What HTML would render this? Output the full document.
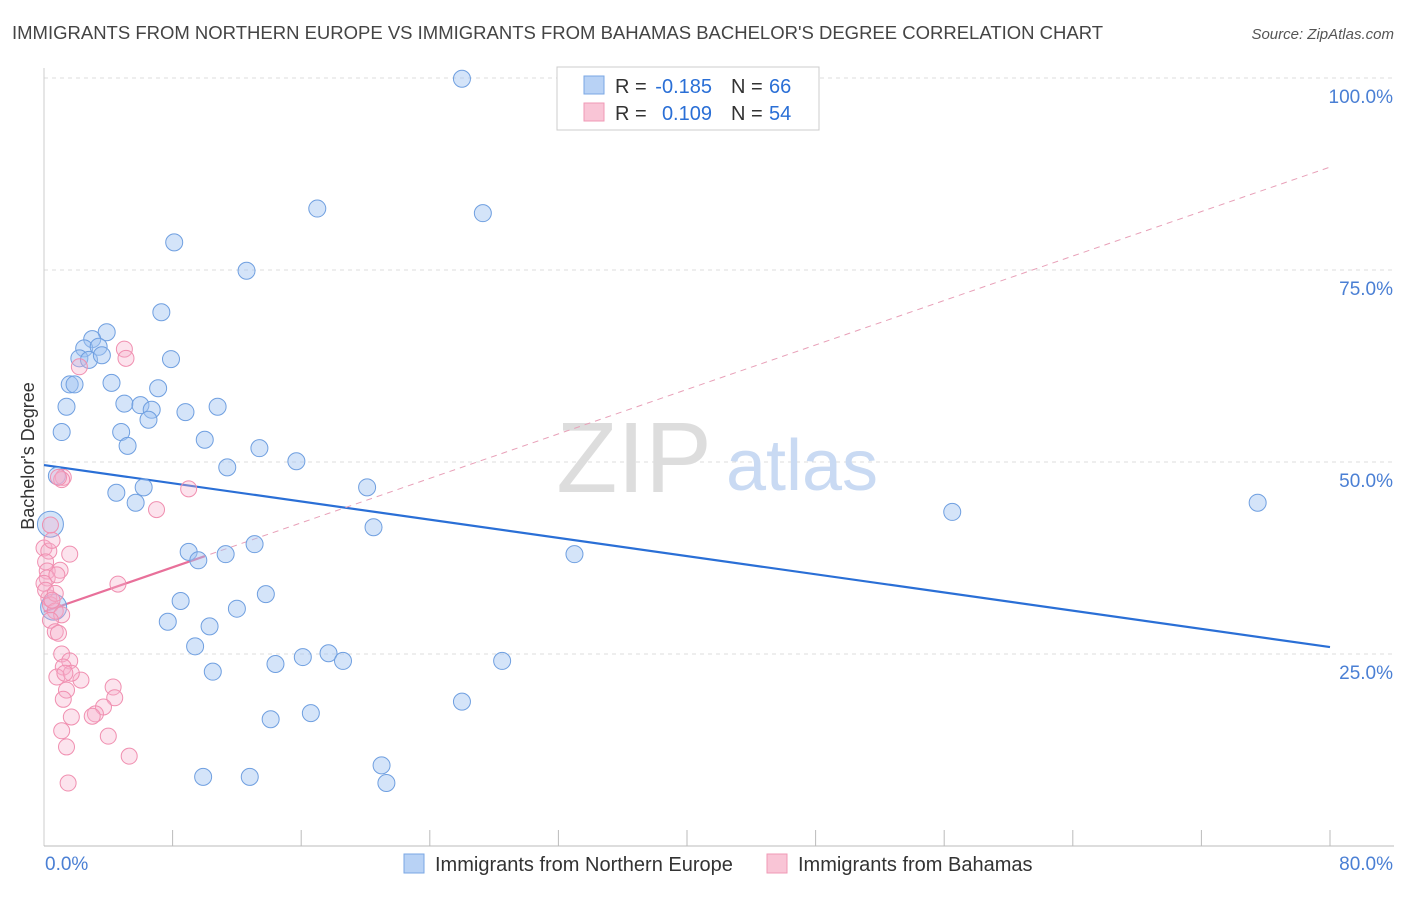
<!DOCTYPE html>
<html><head><meta charset="utf-8">
<style>
body{margin:0;background:#fff;font-family:"Liberation Sans",sans-serif;}
svg text{font-family:"Liberation Sans",sans-serif;}
</style></head>
<body>
<svg id="chart" width="1406" height="892" xmlns="http://www.w3.org/2000/svg">
<text x="12" y="39" font-size="18.5" fill="#444">IMMIGRANTS FROM NORTHERN EUROPE VS IMMIGRANTS FROM BAHAMAS BACHELOR'S DEGREE CORRELATION CHART</text>
<text x="1394" y="39" font-size="15" fill="#555" font-style="italic" text-anchor="end">Source: ZipAtlas.com</text>
<g id="grid"></g>
<g>
<text x="634" y="492" font-size="100" fill="#ddd" font-family="Liberation Serif" text-anchor="middle">ZIP</text>
<text x="802" y="490" font-size="72" fill="#c9daf3" text-anchor="middle">atlas</text>
</g>
<g id="trend"></g>
<g id="points"></g>
<text transform="translate(34,456) rotate(-90)" font-size="18" fill="#333" text-anchor="middle">Bachelor's Degree</text>
<g>
<rect x="557" y="67" width="262" height="63" fill="#fff" stroke="#ccc"/>
<rect x="584" y="76" width="20" height="18" fill="#b8d2f5" stroke="#7aa7e4"/>
<rect x="584" y="103" width="20" height="18" fill="#f9c5d6" stroke="#f099b6"/>
<text x="615" y="93" font-size="20" fill="#333">R =</text>
<text x="712" y="93" font-size="20" fill="#2a6fd6" text-anchor="end">-0.185</text>
<text x="731" y="93" font-size="20" fill="#333">N =</text>
<text x="769" y="93" font-size="20" fill="#2a6fd6">66</text>
<text x="615" y="120" font-size="20" fill="#333">R =</text>
<text x="712" y="120" font-size="20" fill="#2a6fd6" text-anchor="end">0.109</text>
<text x="731" y="120" font-size="20" fill="#333">N =</text>
<text x="769" y="120" font-size="20" fill="#2a6fd6">54</text>
</g>
<g>
<rect x="404" y="854" width="20" height="19" fill="#b8d2f5" stroke="#7aa7e4"/>
<text x="435" y="871" font-size="20" fill="#333">Immigrants from Northern Europe</text>
<rect x="767" y="854" width="20" height="19" fill="#f9c5d6" stroke="#f099b6"/>
<text x="798" y="871" font-size="20" fill="#333">Immigrants from Bahamas</text>
</g>
<text x="45" y="870" font-size="19" fill="#4a7fd4">0.0%</text>
<text x="1393" y="870" font-size="19" fill="#4a7fd4" text-anchor="end">80.0%</text>
</svg>
<script>
const yTicks=[25,50,75,100];
const yTickLabels=["25.0%","50.0%","75.0%","100.0%"];
const xTicks=[8,16,24,32,40,48,56,64,72,80];
const blueX=[26.0,17.0,27.3,8.1,12.6,7.3,3.9,3.0,2.5,3.4,2.2,2.8,3.6,7.9,1.6,1.9,4.2,7.1,1.4,5.0,6.0,6.7,8.8,10.8,6.5,1.1,4.8,5.2,10.0,13.4,15.7,11.4,0.8,4.5,6.2,5.7,20.1,0.4,20.5,9.0,9.6,11.3,13.1,33.0,56.5,75.5,8.5,13.8,12.0,7.7,10.3,9.4,16.1,17.7,18.6,14.4,28.5,10.5,26.0,14.1,16.6,9.9,12.8,21.0,21.3,0.6];
const blueY=[99.9,83.0,82.4,78.6,74.9,69.5,66.9,66.0,64.8,65.0,63.5,63.3,63.9,63.4,60.1,60.1,60.3,59.6,57.2,57.6,57.4,56.8,56.5,57.2,55.5,53.9,53.9,52.1,52.9,51.8,50.1,49.3,48.2,46.0,46.7,44.7,46.7,41.9,41.5,38.3,37.2,38.0,39.3,38.0,43.5,44.7,31.9,32.8,30.9,29.2,28.6,26.0,24.6,25.1,24.1,23.7,24.1,22.7,18.8,16.5,17.3,9.0,9.0,10.5,8.2,31.1];
const pinkX=[0,0.3,0.5,1.6,0.1,0.2,1.0,0.2,0.8,1.2,1.1,0.9,5.0,5.1,2.2,7.0,9.0,4.6,0.3,0.4,0.7,1.1,0.4,0.7,0.9,1.1,1.6,1.2,0.8,2.3,1.4,4.3,1.2,4.4,3.7,3.2,1.7,3.0,1.1,4.0,1.4,5.3,1.5,0,0.1,0.4,1.7,1.3,0.7,0.5];
const pinkY=[38.8,38.4,39.8,38.0,37.0,35.8,35.9,34.9,35.3,48.0,47.7,48.0,64.7,63.5,62.4,43.8,46.5,34.1,32.3,31.4,30.6,30.1,29.4,27.9,27.7,25.0,24.1,23.3,22.0,21.6,20.3,20.7,19.1,19.3,18.1,17.2,16.8,16.9,15.0,14.3,12.9,11.7,8.2,34.2,33.3,41.8,22.5,22.5,32.9,32.0];
const bigBlue=[37,65];
const blueTrend=[49.6,25.9];
const pinkTrend=[30.5,88.4];
const NS="http://www.w3.org/2000/svg";
const X=v=>44+v*(1286/80);
const Y=v=>846-v*7.68;
function mk(t,a,p){const e=document.createElementNS(NS,t);for(const k in a)e.setAttribute(k,a[k]);p.appendChild(e);return e;}
const grid=document.getElementById('grid');
yTicks.forEach((t,i)=>{
 const l=mk('line',{x1:44,x2:1394,y1:Y(t),y2:Y(t),stroke:'#ddd','stroke-dasharray':'4,4'},grid);
 
 
 const tx=mk('text',{x:1393,y:Y(t)+25,'font-size':19,fill:'#4a7fd4','text-anchor':'end'},grid);
 tx.textContent=yTickLabels[i];
 
 
});
mk('line',{x1:44,x2:44,y1:68,y2:846,stroke:'#ccc'},grid);
mk('line',{x1:44,x2:1394,y1:846,y2:846,stroke:'#bbb'},grid);
xTicks.forEach(t=>{
 const l=mk('line',{x1:X(t),x2:X(t),y1:830,y2:846,stroke:'#bbb'},grid);
 
 
});
const tr=document.getElementById('trend');
const bl=mk('line',{x1:X(0),y1:Y(blueTrend[0]),x2:X(80),y2:Y(blueTrend[1]),stroke:'#2a6fd6','stroke-width':2.2},tr);


const slope=(pinkTrend[1]-pinkTrend[0])/80;
const pd=mk('line',{x1:X(0),y1:Y(pinkTrend[0]),x2:X(80),y2:Y(pinkTrend[1]),stroke:'#e8a0b8','stroke-width':1,'stroke-dasharray':'6,5'},tr);


const pl=mk('line',{x1:X(0),y1:Y(pinkTrend[0]),x2:X(10),y2:Y(pinkTrend[0]+slope*10),stroke:'#e8709a','stroke-width':2.2},tr);


const pts=document.getElementById('points');
blueX.forEach((x,i)=>{
 const c=mk('circle',{cx:X(x),cy:Y(blueY[i]),r:bigBlue.includes(i)?13:8.5,fill:'rgba(160,196,242,0.45)',stroke:'#6f9fe0','stroke-width':1},pts);
 
 
});
pinkX.forEach((x,i)=>{
 const c=mk('circle',{cx:X(x),cy:Y(pinkY[i]),r:8,fill:'rgba(247,175,202,0.35)',stroke:'#f08fb0','stroke-width':1},pts);
 
 
});
</script>
</body></html>
